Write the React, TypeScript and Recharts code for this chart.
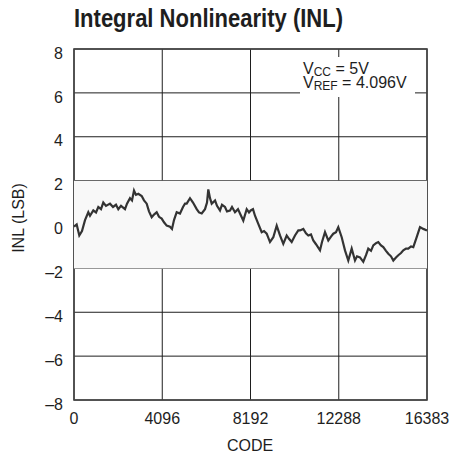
import React from "react";
import {
  LineChart,
  Line,
  XAxis,
  YAxis,
  CartesianGrid,
  ReferenceArea,
  Customized,
} from "recharts";

// INL trace: output code vs. INL in LSB
const codes = [
  0, 125, 246, 371, 511, 664, 743, 896, 1021, 1128, 1253, 1360, 1485, 1671,
  1810, 1949, 2056, 2181, 2367, 2460, 2599, 2692, 2785, 2877, 2984, 3142,
  3249, 3374, 3481, 3606, 3713, 3838, 3945, 4070, 4177, 4302, 4455, 4548,
  4641, 4766, 4919, 5059, 5152, 5230, 5384, 5523, 5695, 5801, 5927, 6080,
  6173, 6233, 6312, 6391, 6546, 6637, 6776, 6869, 7008, 7101, 7240, 7333,
  7472, 7611, 7704, 7857, 8015, 8122, 8201, 8307, 8400, 8553, 8711, 8818,
  8943, 9096, 9250, 9407, 9560, 9713, 9871, 9978, 10103, 10256, 10410, 10489,
  10642, 10767, 10874, 10999, 11106, 11231, 11417, 11510, 11649, 11802, 11927,
  12034, 12159, 12266, 12424, 12577, 12730, 12888, 13041, 13134, 13273, 13426,
  13552, 13658, 13784, 13890, 14016, 14122, 14248, 14355, 14480, 14587, 14712,
  14819, 14944, 15051, 15176, 15283, 15408, 15515, 15640, 15747, 15905, 16058,
  16211, 16383,
];

const inl = [
  -0.1, 0.0, -0.5, -0.3, 0.2, 0.56, 0.4, 0.64, 0.55, 0.8, 0.7, 1.0, 0.85, 0.95,
  0.8, 0.9, 0.7, 0.85, 0.7, 0.95, 1.2, 1.1, 1.55, 1.35, 1.4, 1.3, 1.1, 0.95,
  0.6, 0.33, 0.45, 0.56, 0.35, 0.27, 0.1, -0.05, -0.1, -0.2, 0.2, 0.56, 0.5,
  0.8, 0.95, 0.95, 1.2, 1.0, 0.7, 0.55, 0.5, 0.7, 1.0, 1.6, 1.2, 0.95, 1.1,
  0.85, 0.64, 0.9, 0.8, 0.6, 0.64, 0.8, 0.56, 0.7, 0.5, 0.18, 0.7, 0.55, 0.64,
  0.7, 0.4, 0.03, -0.35, -0.3, -0.42, -0.8, -0.58, -0.05, -0.5, -0.88, -0.5,
  -0.65, -0.8, -0.5, -0.27, -0.27, -0.2, -0.4, -0.5, -0.45, -0.73, -0.9,
  -1.18, -0.8, -0.35, -0.73, -0.55, -0.42, -0.35, -0.12, -0.58, -1.18, -1.64,
  -1.1, -1.64, -1.45, -1.5, -1.7, -1.4, -1.1, -1.2, -0.95, -0.85, -0.8, -0.95,
  -1.03, -1.2, -1.33, -1.45, -1.64, -1.5, -1.4, -1.3, -1.18, -1.1, -1.1, -1.0,
  -1.03, -0.58, -0.12, -0.2, -0.27,
];

const xTicks = [0, 4096, 8192, 12288, 16383];
const yTicks = [-8, -6, -4, -2, 0, 2, 4, 6, 8];

const data = codes.map((code, i) => ({ code, inl: inl[i] }));

const FONT = "'Liberation Sans', Arial, sans-serif";
const INK = "#1e1e1e";

const minus = (v: number) => String(v).replace("-", "\u2013");

const XTick = (props: any) => {
  const { x, y, payload } = props;
  return (
    <text x={x} y={y} dy="0.71em" textAnchor="middle" fontFamily={FONT} fontSize={16} fill={INK}>
      {payload.value}
    </text>
  );
};

const YTick = (props: any) => {
  const { x, y, payload } = props;
  return (
    <text x={x} y={y + 4} dy="0.355em" textAnchor="end" fontFamily={FONT} fontSize={16} fill={INK}>
      {minus(payload.value)}
    </text>
  );
};

const Extras = () => (
  <g>
    <text
      x={74}
      y={27}
      fontFamily={FONT}
      fontWeight="bold"
      fontSize={26}
      textLength={269}
      lengthAdjust="spacingAndGlyphs"
      fill={INK}
    >
      Integral Nonlinearity (INL)
    </text>
    <text
      x={24}
      y={218}
      transform="rotate(-90, 24, 218)"
      textAnchor="middle"
      fontFamily={FONT}
      fontSize={16}
      fill={INK}
    >
      INL (LSB)
    </text>
    <text x={250} y={451} textAnchor="middle" fontFamily={FONT} fontSize={16} fill={INK}>
      CODE
    </text>
    <rect x={300} y={57} width={115} height={40} fill="#ffffff" />
    <text x={303} y={74} fontFamily={FONT} fontSize={16} fill={INK}>
      V
      <tspan fontSize={12} dy={2}>CC</tspan>
      <tspan dy={-2}> = 5V</tspan>
      <tspan x={303} dy={14}>V</tspan>
      <tspan fontSize={12} dy={2}>REF</tspan>
      <tspan dy={-2}> = 4.096V</tspan>
    </text>
    <rect x={74} y={49} width={353} height={351} fill="none" stroke="#444" strokeWidth={1.6} />
  </g>
);

export default function App() {
  return (
    <div style={{ position: "absolute", left: 0, top: 0, width: 453, height: 458, background: "#fff" }}>
      <LineChart
        width={453}
        height={458}
        data={data}
        margin={{ top: 49, right: 26, bottom: 0, left: 0 }}
      >
        <ReferenceArea y1={-2} y2={2} x1={0} x2={16383} fill="#f8f8f8" fillOpacity={1} stroke="none" />
        <CartesianGrid stroke={INK} strokeWidth={1} />
        <XAxis
          dataKey="code"
          type="number"
          domain={[0, 16383]}
          ticks={xTicks}
          height={58}
          tickSize={0}
          tickMargin={13}
          tickLine={false}
          axisLine={false}
          tick={<XTick />}
        />
        <YAxis
          type="number"
          domain={[-8, 8]}
          ticks={yTicks}
          width={74}
          tickSize={0}
          tickMargin={11}
          tickLine={false}
          axisLine={false}
          tick={<YTick />}
          interval={0}
        />
        <Line
          type="linear"
          dataKey="inl"
          stroke="#333"
          strokeWidth={2.2}
          dot={false}
          isAnimationActive={false}
        />
        <Customized component={Extras} />
      </LineChart>
    </div>
  );
}
